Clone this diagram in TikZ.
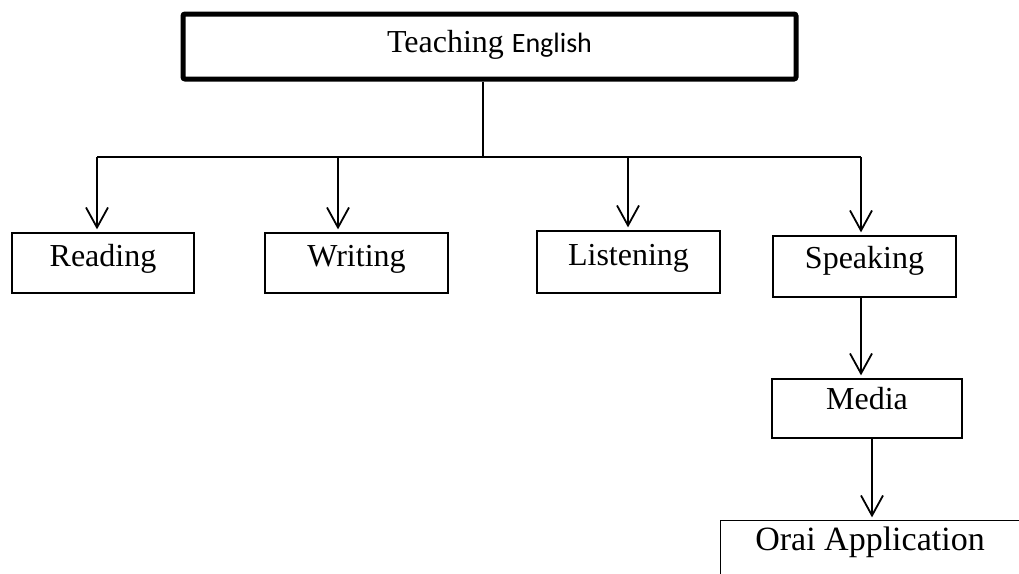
\documentclass[tikz,border=0pt]{standalone}
\usepackage{fontspec}
\setmainfont{Liberation Serif}
\newfontfamily\carlito{Carlito}
\usetikzlibrary{arrows.meta}
\begin{document}
\begin{tikzpicture}[x=1pt,y=-1pt,
  box/.style={draw,line width=1.3pt,inner sep=0pt,font=\fontsize{32}{36}\selectfont},
  conn/.style={line width=2pt},
  arr/.style={conn,shorten >=3pt,-{Straight Barb[length=20pt,width=22pt,line width=1.8pt]}}]
\useasboundingbox (0,0) rectangle (1019,573);
% boxes
\node[box,line width=5pt,rounded corners=2pt,minimum width=613pt,text height=38pt,text depth=27pt] (top) at (489.5,46.5)
  {Teaching {\carlito\fontsize{28}{32}\selectfont English}};
\node[box,minimum width=182pt,text height=33pt,text depth=27pt] (reading) at (103,263) {Reading};
\node[box,minimum width=183pt,text height=33pt,text depth=27pt] (writing) at (356.5,263) {Writing};
\node[box,minimum width=183pt,text height=34pt,text depth=28pt] (listening) at (628.5,262) {Listening};
\node[box,minimum width=183pt,text height=32pt,text depth=29pt] (speaking) at (864.5,266.5) {Speaking};
\node[box,minimum width=190pt,text height=30pt,text depth=29pt] (media) at (867,408.5) {Media};
\node[box,draw=none,minimum width=298pt,text height=29pt,text depth=30pt,font=\fontsize{34}{38}\selectfont] (orai) at (870,550.5) {Orai Application};
\draw[line width=1.3pt] (orai.south west) -- (orai.north west) -- (orai.north east);
% bus coordinates
\coordinate (bus) at (483,157);
\coordinate (b1) at (97,157);
\coordinate (b2) at (338,157);
\coordinate (b3) at (628,157);
\coordinate (b4) at (861,157);
\coordinate (mo) at (872,438);
% connectors
\draw[conn] (top.south -| bus) -- (bus);
\draw[conn] (b1) -- (b4);
\draw[arr] (b1) -- (b1 |- reading.north);
\draw[arr] (b2) -- (b2 |- writing.north);
\draw[arr] (b3) -- (b3 |- listening.north);
\draw[arr] (b4) -- (b4 |- speaking.north);
\draw[arr] (speaking.south -| b4) -- (media.north -| b4);
\draw[arr] (media.south -| mo) -- (orai.north -| mo);
\end{tikzpicture}
\end{document}
